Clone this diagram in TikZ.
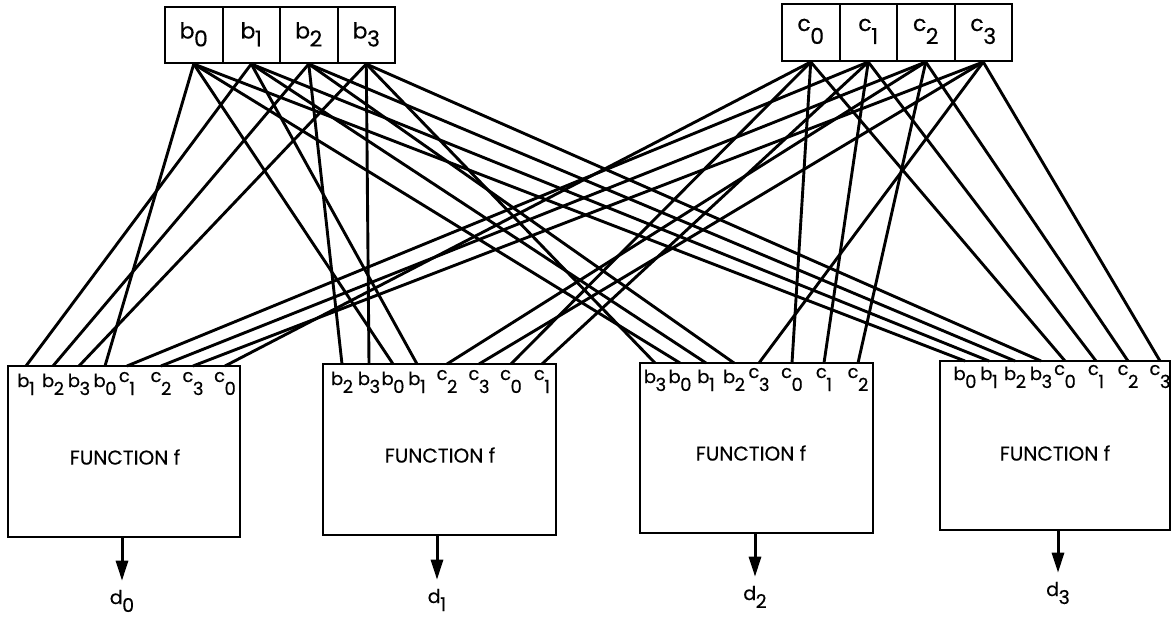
\documentclass[tikz,border=0pt]{standalone}
\usepackage{fontspec}
\setmainfont{Poppins}[FakeBold=0.4]
\usetikzlibrary{arrows.meta}
\newcommand\blab[1]{b\kern-0.5pt\raisebox{-8pt}{#1}}
\newcommand\clab[1]{\raisebox{5pt}{c}\kern-0.5pt\raisebox{-8pt}{#1}}
\newcommand\dlab[1]{d\kern-0.5pt\raisebox{-8pt}{#1}}
\begin{document}
\begin{tikzpicture}[x=1pt,y=-1pt,
  wire/.style={line width=2.9pt},
  cell/.style={draw,line width=2pt,minimum width=57.5pt,minimum height=56pt,inner sep=0pt,text height=14pt,text depth=7pt,font=\fontsize{22}{22}\selectfont},
  fbox/.style={draw,line width=2pt,inner sep=0pt},
  ftext/.style={font=\fontsize{20}{20}\selectfont,inner sep=0pt},
  port/.style={anchor=base,inner sep=0pt,font=\fontsize{18}{18}\selectfont},
  outlbl/.style={anchor=base,inner sep=0pt,font=\fontsize{19}{19}\selectfont},
  outarrow/.style={line width=3pt,-{Triangle[length=20pt,width=12pt]},shorten >=9pt}]
\useasboundingbox (0,0) rectangle (1172,617);
% input registers
\foreach \i in {0,...,3}{
  \node[cell] (b\i) at ({165+57.5*(\i+0.5)},35) {\blab{\i}};
}
\foreach \i in {0,...,3}{
  \node[cell,minimum height=57pt] (c\i) at ({782+57.5*(\i+0.5)},32.5) {\clab{\i}};
}
% function boxes
\node[fbox,minimum width=232pt,minimum height=171pt] (f1) at (124,451.5) {};
\node[fbox,minimum width=233pt,minimum height=171pt] (f2) at (439.5,449.5) {};
\node[fbox,minimum width=233pt,minimum height=170pt] (f3) at (756.5,448) {};
\node[fbox,minimum width=230pt,minimum height=169pt] (f4) at (1055,445.5) {};
\node[ftext] (t1) at (125,457) {FUNCTION f};
\node[ftext] (t2) at (440,455) {FUNCTION f};
\node[ftext] (t3) at (751,453) {FUNCTION f};
\node[ftext] (t4) at (1055,453) {FUNCTION f};
% ports and wires
\foreach \l/\d/\x in {b/1/26,b/2/53,b/3/79,b/0/105,c/1/127,c/2/161,c/3/193,c/0/225}{
  \coordinate (pa\l\d) at (\x,366);
  \node[port] (la\l\d) at (\x,387) {\csname\l lab\endcsname{\d}};
  \draw[wire] (\l\d.south) -- (pa\l\d);
}
\foreach \l/\d/\x in {b/2/342,b/3/369,b/0/393,b/1/417,c/2/447,c/3/479,c/0/511,c/1/542}{
  \coordinate (pb\l\d) at (\x,364);
  \node[port] (lb\l\d) at (\x,385) {\csname\l lab\endcsname{\d}};
  \draw[wire] (\l\d.south) -- (pb\l\d);
}
\foreach \l/\d/\x in {b/3/655,b/0/680,b/1/706,b/2/734,c/3/759,c/0/792,c/1/824,c/2/858}{
  \coordinate (pc\l\d) at (\x,363);
  \node[port] (lc\l\d) at (\x,383) {\csname\l lab\endcsname{\d}};
  \draw[wire] (\l\d.south) -- (pc\l\d);
}
\foreach \l/\d/\x in {b/0/965,b/1/989,b/2/1015,b/3/1041,c/0/1065,c/1/1096,c/2/1128,c/3/1160}{
  \coordinate (pd\l\d) at (\x,361);
  \node[port] (ld\l\d) at (\x,380) {\csname\l lab\endcsname{\d}};
  \draw[wire] (\l\d.south) -- (pd\l\d);
}
% outputs
\node[outlbl] (d0) at (122,604) {\dlab{0}};
\node[outlbl] (d1) at (437,603) {\dlab{1}};
\node[outlbl] (d2) at (755,600) {\dlab{2}};
\node[outlbl] (d3) at (1058,596) {\dlab{3}};
\draw[outarrow] (d0 |- f1.south) -- (d0.north);
\draw[outarrow] (d1 |- f2.south) -- (d1.north);
\draw[outarrow] (d2 |- f3.south) -- (d2.north);
\draw[outarrow] (d3 |- f4.south) -- (d3.north);
\end{tikzpicture}
\end{document}
